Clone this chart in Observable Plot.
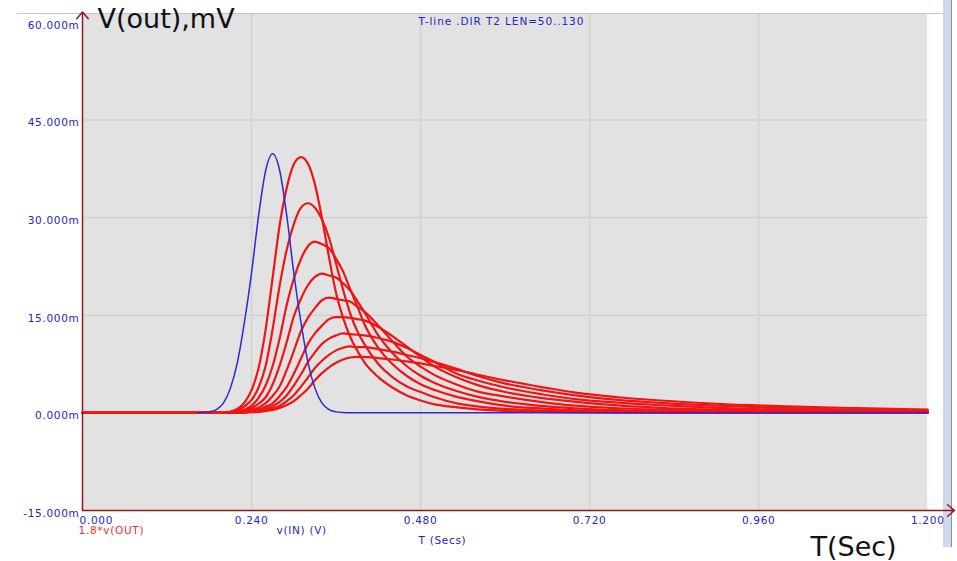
<!DOCTYPE html>
<html><head><meta charset="utf-8">
<script src="https://cdn.jsdelivr.net/npm/d3@7"></script>
<script src="https://cdn.jsdelivr.net/npm/@observablehq/plot@0.6"></script>
<style>
html,body{margin:0;padding:0;background:#fff;}
#wrap{position:relative;width:957px;height:561px;overflow:hidden;}
#strip{position:absolute;left:943px;top:0;width:8px;height:547px;background:#cfd9ea;border-right:1px solid #8a8f99;}
#topline{position:absolute;left:17px;top:13px;width:926px;height:1px;background:#c4c4c4;}
#chart{position:absolute;left:0;top:0;}
g[aria-description="ticklbl"] text, g[aria-description="small"] text{letter-spacing:0.7px;}
g[aria-description="title"] text{letter-spacing:0.9px;}
</style></head><body>
<div id="wrap"><div id="strip"></div><div id="topline"></div><div id="chart"></div></div>
<script>
// time grid (s) shared by the red LEN sweep
const T = [0, 0.19, 0.20, 0.21, 0.22, 0.23, 0.24, 0.25, 0.26, 0.27, 0.28, 0.29, 0.30, 0.31, 0.32, 0.33, 0.34, 0.35, 0.36, 0.37, 0.38, 0.39, 0.40, 0.42, 0.44, 0.46, 0.48, 0.50, 0.53, 0.56, 0.60, 0.65, 0.70, 0.76, 0.82, 0.90, 1.00, 1.10, 1.20];
// 1.8*v(OUT) in mV for LEN = 50..130
const len50  = [0,0,0,0.2,0.6,1.6,3.5,6.9,12.8,20.8,28.9,34.6,38.2,39.3,38.3,35.1,29.9,23.9,18.4,14.6,11.7,9.6,7.8,5.5,3.9,2.7,1.9,1.3,0.87,0.53,0.29,0.14,0.07,0.04,0.02,0.01,0.01,0,0];
const len60  = [0,0,0,0.13,0.4,1.0,2.0,3.9,7.2,12.9,19.6,25.1,29.0,31.5,32.2,31.5,29.7,26.9,22.9,18.9,15.3,12.6,10.6,7.5,5.5,4.1,3.2,2.4,1.5,1.0,0.6,0.33,0.18,0.09,0.05,0.03,0.01,0.01,0];
const len70  = [0,0,0,0.07,0.24,0.5,1.1,2.3,4.2,7.2,11.5,16.6,20.6,23.6,25.6,26.3,25.9,25.3,23.7,21.7,19.0,16.4,13.7,10.0,7.5,5.7,4.4,3.5,2.5,1.8,1.1,0.68,0.38,0.21,0.12,0.05,0.02,0.01,0];
const len80  = [0,0,0,0.04,0.13,0.33,0.73,1.4,2.4,4.4,7.3,10.9,14.8,17.5,19.6,20.9,21.4,21.1,20.8,19.9,18.8,17.2,15.5,11.9,9.2,7.2,5.7,4.6,3.4,2.5,1.7,1.07,0.69,0.41,0.25,0.13,0.06,0.03,0.01];
const len90  = [0,0,0,0.01,0.09,0.22,0.44,0.81,1.5,2.6,4.1,6.6,9.5,12.5,14.6,16.1,17.3,17.7,17.5,17.3,17.1,16.3,15.6,13.4,11.0,8.7,7.1,5.8,4.4,3.3,2.5,1.7,1.1,0.71,0.48,0.26,0.13,0.07,0.04];
const len100 = [0,0,0,0,0.06,0.14,0.26,0.53,0.94,1.5,2.6,4.0,6.0,8.3,10.6,12.2,13.4,14.4,14.7,14.7,14.6,14.4,14.2,13.2,11.8,10.2,8.6,7.1,5.5,4.3,3.2,2.3,1.7,1.14,0.77,0.49,0.27,0.16,0.09];
const len110 = [0,0,0,0,0.04,0.09,0.18,0.36,0.59,1.07,1.7,2.7,4.2,5.9,7.8,9.3,10.6,11.4,11.9,12.2,12.1,12.0,11.9,11.5,10.9,10.0,8.9,7.8,6.1,5.0,3.9,2.9,2.1,1.56,1.17,0.77,0.45,0.30,0.18];
const len120 = [0,0,0,0,0.02,0.06,0.13,0.23,0.41,0.71,1.1,1.8,2.7,4.0,5.4,6.9,8.0,8.9,9.6,10.0,10.2,10.1,10.1,9.8,9.4,8.9,8.4,7.8,6.8,5.7,4.5,3.5,2.7,2.0,1.54,1.10,0.72,0.47,0.32];
const len130 = [0,0,0,0,0.01,0.04,0.09,0.15,0.29,0.46,0.77,1.2,1.8,2.7,3.7,5.0,6.1,7.0,7.7,8.2,8.5,8.6,8.6,8.4,8.2,7.9,7.6,7.2,6.6,5.9,5.0,4.0,3.1,2.4,1.9,1.4,1.0,0.72,0.51];
const lengths = [50, 60, 70, 80, 90, 100, 110, 120, 130];
const redSeries = [len50, len60, len70, len80, len90, len100, len110, len120, len130];

// v(IN) pulse
const blueT = [0.165, 0.18, 0.19, 0.20, 0.21, 0.22, 0.23, 0.24, 0.25, 0.26, 0.27, 0.28, 0.29, 0.30, 0.31, 0.32, 0.33, 0.34, 0.35, 0.36, 0.37, 0.38, 1.2];
const blueV = [0, 0.15, 0.5, 1.5, 3.8, 7.8, 14, 21.5, 30.3, 37.2, 39.8, 37.2, 30.3, 21.5, 14, 7.8, 3.8, 1.5, 0.5, 0.15, 0.04, 0, 0];

const xTicks = [0, 0.24, 0.48, 0.72, 0.96, 1.2];
const xTickLabels = ["0.000", "0.240", "0.480", "0.720", "0.960", "1.200"];
const yTicks = [60, 45, 30, 15, 0, -15];
const yTickLabels = ["60.000m", "45.000m", "30.000m", "15.000m", "0.000m", "-15.000m"];
const xGrid = [0.24, 0.48, 0.72, 0.96];
const yGrid = [15, 30, 45];
const xMin = 0, xMax = 1.2, xAxisEnd = 1.238;
const yMin = -15, yMax = 61.2, yAxisEnd = 61.6;

const redData = lengths.flatMap((L, i) => T.map((t, j) => ({len: L, t, v: redSeries[i][j]})));
const blueData = blueT.map((t, j) => ({t, v: blueV[j]}));

const blueTxt = "#2424c8";
const axisCol = "#8a1c1c";
const font = "DejaVu Sans";

const chart = Plot.plot({
  width: 957, height: 561,
  marginLeft: 82, marginRight: 3, marginTop: 14, marginBottom: 51,
  style: {background: "transparent", fontFamily: font},
  x: {domain: [xMin, xAxisEnd], axis: null},
  y: {domain: [yMin, yMax], axis: null},
  marks: [
    Plot.rect([{x1: xMin, x2: xMax, y1: yMin, y2: yMax}], {x1: "x1", x2: "x2", y1: "y1", y2: "y2", fill: "#e2e2e2"}),
    Plot.ruleX(xGrid, {y1: yMin, y2: yMax, stroke: "#d2d2d2", strokeWidth: 1.5}),
    Plot.ruleY(yGrid, {x1: xMin, x2: xMax, stroke: "#d2d2d2", strokeWidth: 1.5}),
    Plot.line(redData, {x: "t", y: "v", z: "len", stroke: "#f01414", strokeWidth: 2.2, curve: "monotone-x"}),
    Plot.line(blueData, {x: "t", y: "v", stroke: "#2a2ad8", strokeWidth: 1.5, curve: "monotone-x"}),
    Plot.arrow([{a: 0}], {x1: xMin, x2: xMin, y1: yMin, y2: yAxisEnd, stroke: axisCol, strokeWidth: 1.5, headLength: 9, headAngle: 80}),
    Plot.arrow([{a: 0}], {x1: xMin, x2: xAxisEnd, y1: yMin, y2: yMin, stroke: axisCol, strokeWidth: 1.5, headLength: 9, headAngle: 80}),
    Plot.text(yTicks, {x: xMin, y: d => d, text: (d, i) => yTickLabels[i], textAnchor: "end", dx: -3, dy: 3, fill: blueTxt, fontSize: 10.5, ariaDescription: "ticklbl"}),
    Plot.text(xTicks.slice(1), {x: d => d, y: yMin, text: (d, i) => xTickLabels[i + 1], textAnchor: "middle", dy: 10, fill: blueTxt, fontSize: 10.5, ariaDescription: "ticklbl"}),
    Plot.text(xTicks.slice(0, 1), {x: d => d, y: yMin, text: (d, i) => xTickLabels[i], textAnchor: "start", dx: -3, dy: 10, fill: blueTxt, fontSize: 10.5, ariaDescription: "ticklbl"}),
    Plot.text(["1.8*v(OUT)"], {frameAnchor: "bottom-left", text: d => d, textAnchor: "start", dx: -4, dy: 23.5, fill: "#e83030", fontSize: 10.5, ariaDescription: "small"}),
    Plot.text(["v(IN) (V)"], {frameAnchor: "bottom-left", text: d => d, textAnchor: "start", dx: 194, dy: 23, fill: blueTxt, fontSize: 10.5, ariaDescription: "small"}),
    Plot.text(["T (Secs)"], {frameAnchor: "bottom-left", text: d => d, textAnchor: "start", dx: 336, dy: 33.5, fill: blueTxt, fontSize: 10.5, ariaDescription: "small"}),
    Plot.text(["T-line .DIR T2 LEN=50..130"], {frameAnchor: "top-left", text: d => d, textAnchor: "start", dx: 336, dy: 3.5, fill: blueTxt, fontSize: 10.5, ariaDescription: "title"}),
    Plot.text(["V(out),mV"], {frameAnchor: "top-left", text: d => d, textAnchor: "start", lineAnchor: "bottom", dx: 15, dy: 13, fill: "#111", fontSize: 27}),
    Plot.text(["T(Sec)"], {frameAnchor: "bottom-left", text: d => d, textAnchor: "start", lineAnchor: "bottom", dx: 728, dy: 45, fill: "#111", fontSize: 27})
  ]
});
document.getElementById("chart").appendChild(chart);
</script>
</body></html>
